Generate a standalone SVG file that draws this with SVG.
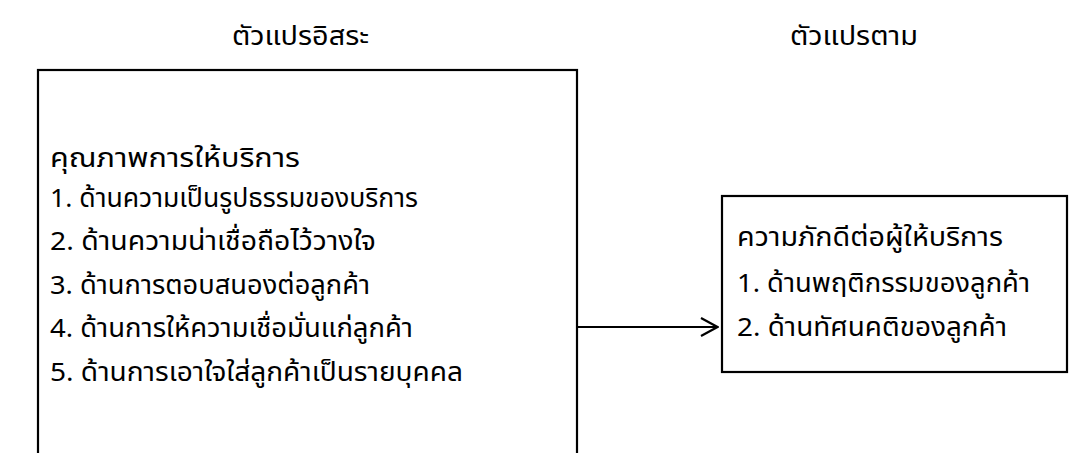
<svg xmlns="http://www.w3.org/2000/svg" width="1082" height="453" viewBox="0 0 1082 453">
<defs>
<style>
text{font-family:"Noto Sans Thai","Noto Sans","DejaVu Sans",sans-serif;font-size:26px;fill:#000}
.box{fill:#fff;stroke:#000;stroke-width:2.2}
.conn{stroke:#000;stroke-width:2.2;fill:none}
</style>
<marker id="arr" viewBox="0 0 20 24" refX="19" refY="12" markerWidth="20" markerHeight="24" markerUnits="userSpaceOnUse" orient="auto">
<path d="M2,3 L18.5,12 L2,21" fill="none" stroke="#000" stroke-width="2.2"/>
</marker>
</defs>
<rect width="1082" height="453" fill="#fff"/>
<g id="heading-independent"><text x="232" y="45" textLength="137" lengthAdjust="spacingAndGlyphs">ตัวแปรอิสระ</text></g>
<g id="heading-dependent"><text x="790" y="45" textLength="128" lengthAdjust="spacingAndGlyphs">ตัวแปรตาม</text></g>
<g id="node-service-quality">
<rect class="box" x="38" y="70" width="539" height="400"/>
<text x="50" y="167" textLength="250" lengthAdjust="spacingAndGlyphs">คุณภาพการให้บริการ</text>
<text x="50" y="207" textLength="368" lengthAdjust="spacingAndGlyphs">1. ด้านความเป็นรูปธรรมของบริการ</text>
<text x="50" y="250" textLength="326" lengthAdjust="spacingAndGlyphs">2. ด้านความน่าเชื่อถือไว้วางใจ</text>
<text x="50" y="294" textLength="320" lengthAdjust="spacingAndGlyphs">3. ด้านการตอบสนองต่อลูกค้า</text>
<text x="50" y="337" textLength="363" lengthAdjust="spacingAndGlyphs">4. ด้านการให้ความเชื่อมั่นแก่ลูกค้า</text>
<text x="50" y="381" textLength="413" lengthAdjust="spacingAndGlyphs">5. ด้านการเอาใจใส่ลูกค้าเป็นรายบุคคล</text>
</g>
<g id="node-loyalty">
<rect class="box" x="722" y="196" width="345" height="176"/>
<text x="737" y="246" textLength="266" lengthAdjust="spacingAndGlyphs">ความภักดีต่อผู้ให้บริการ</text>
<text x="737" y="292" textLength="293" lengthAdjust="spacingAndGlyphs">1. ด้านพฤติกรรมของลูกค้า</text>
<text x="737" y="336" textLength="270" lengthAdjust="spacingAndGlyphs">2. ด้านทัศนคติของลูกค้า</text>
</g>
<g id="connectors">
<line class="conn" x1="577" y1="327" x2="718" y2="327" marker-end="url(#arr)"/>
</g>
</svg>
